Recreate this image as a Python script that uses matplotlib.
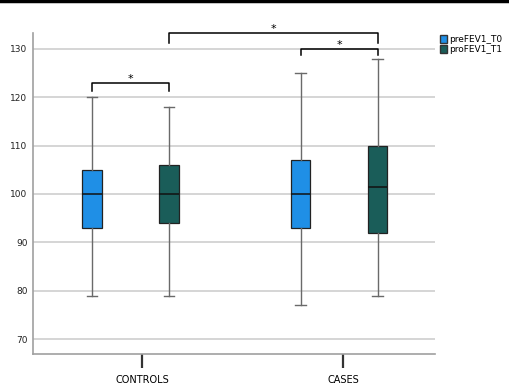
import matplotlib.pyplot as plt
from matplotlib.patches import Patch

# 组别和序列
groups = ['CONTROLS', 'CASES']
series = ['preFEV1_T0', 'proFEV1_T1']
colors = ['#1f8fe6', '#1a5d59']

# 箱线图统计量: 下须, 下四分位, 中位数, 上四分位, 上须
stats = {
    ('CONTROLS', 'preFEV1_T0'): [79, 93, 100, 105, 120],
    ('CONTROLS', 'proFEV1_T1'): [79, 94, 100, 106, 118],
    ('CASES', 'preFEV1_T0'): [77, 93, 100, 107, 125],
    ('CASES', 'proFEV1_T1'): [79, 92, 101.5, 110, 128],
}

# 显著性标记: (组, 序列) -> (组, 序列)
signif = [
    (('CONTROLS', 'preFEV1_T0'), ('CONTROLS', 'proFEV1_T1'), 122.9, 1.6),
    (('CASES', 'preFEV1_T0'), ('CASES', 'proFEV1_T1'), 129.95, 1.2),
    (('CONTROLS', 'proFEV1_T1'), ('CASES', 'proFEV1_T1'), 133.25, 2.0),
]

fig = plt.figure(figsize=(5.09, 3.89), dpi=100)
ax = fig.add_axes([33 / 509, 1 - 354 / 389, 402 / 509, 321 / 389])

offset = 0.185
width = 0.094
pos = {}
for gi, g in enumerate(groups):
    for si, s in enumerate(series):
        pos[(g, s)] = gi + (si - 0.5) * 2 * offset

for key, st in stats.items():
    lo, q1, med, q3, hi = st
    c = colors[series.index(key[1])]
    ax.bxp([{'whislo': lo, 'q1': q1, 'med': med, 'q3': q3, 'whishi': hi, 'fliers': []}],
           positions=[pos[key]], widths=width, patch_artist=True, showfliers=False,
           boxprops=dict(facecolor=c, edgecolor='#222222', linewidth=0.9),
           medianprops=dict(color='#111111', linewidth=1.1),
           whiskerprops=dict(color='#6a6a6a', linewidth=1.0),
           capprops=dict(color='#6a6a6a', linewidth=1.0),
           capwidths=0.05, zorder=3)

for a, b, y, d in signif:
    x1, x2 = pos[a], pos[b]
    ax.plot([x1, x1, x2, x2], [y - d, y, y, y - d], color='black', lw=1.1,
            clip_on=False, zorder=4)
    ax.text((x1 + x2) / 2, y - 0.2, '*', ha='center', va='bottom', fontsize=8,
            clip_on=False)

ax.set_xlim(-0.468, 1.460)
ax.set_ylim(66.9, 133.3)
ax.set_yticks(range(70, 131, 10))
ax.set_xticks([0.055, 1.019])
ax.set_xticklabels(groups)
ax.grid(axis='y', color='#d2d2d2', linewidth=1.3, zorder=0)
ax.set_axisbelow(True)
ax.tick_params(axis='y', length=0, labelsize=6.5, pad=4, labelcolor='#222222')
ax.tick_params(axis='x', length=10, width=1.6, color='#333333', labelsize=7, pad=5)
for side in ['top', 'right']:
    ax.spines[side].set_visible(False)
for side in ['left', 'bottom']:
    ax.spines[side].set_color('#a0a0a0')
    ax.spines[side].set_linewidth(1.2)

handles = [Patch(facecolor=colors[i], edgecolor='#333333', label=series[i]) for i in range(2)]
fig.legend(handles=handles, loc='upper left', bbox_to_anchor=(436 / 509, 1 - 31 / 389),
           frameon=False, fontsize=6.5, handlelength=0.8, handleheight=1.0,
           handletextpad=0.2, labelspacing=0.1, borderaxespad=0)

# 顶部黑线
fig.add_artist(plt.Line2D([0, 1], [1 - 1 / 389, 1 - 1 / 389], color='black', lw=2.5))

fig.savefig('out.png', dpi=100)
